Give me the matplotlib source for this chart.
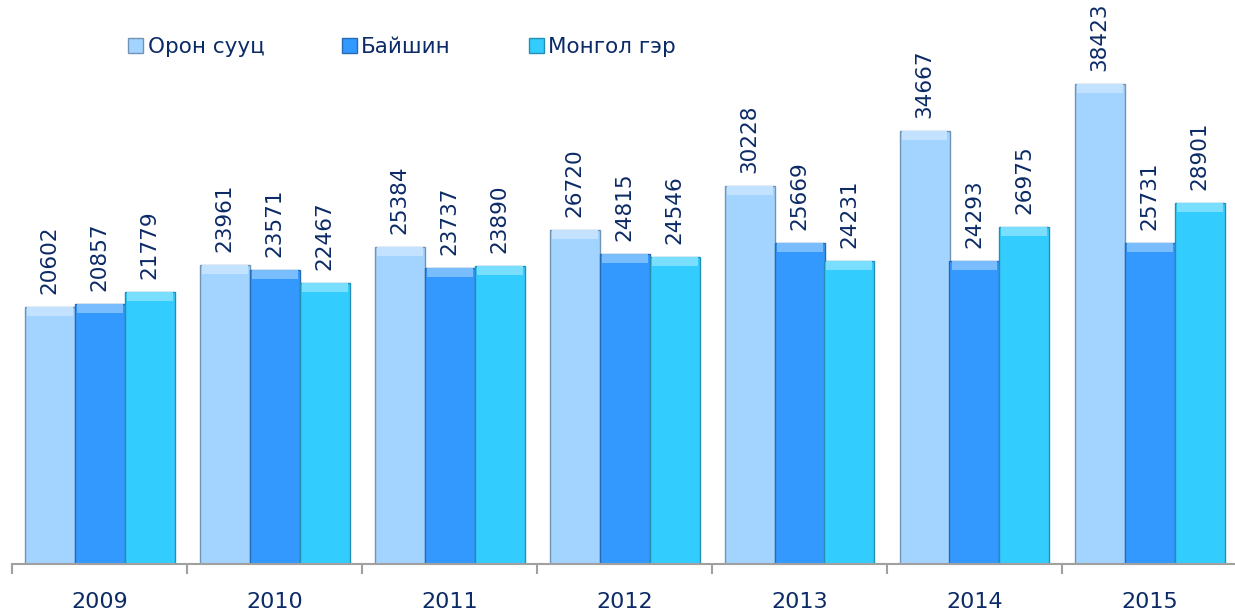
"""Housing types by year, grouped bars with rotated value labels."""

import numpy as np
import matplotlib.pyplot as plt
from matplotlib.colors import to_rgb

years = ["2009", "2010", "2011", "2012", "2013", "2014", "2015"]
series_names = ["Орон сууц", "Байшин", "Монгол гэр"]
apartment = [20602, 23961, 25384, 26720, 30228, 34667, 38423]
house = [20857, 23571, 23737, 24815, 25669, 24293, 25731]
ger = [21779, 22467, 23890, 24546, 24231, 26975, 28901]

colors = ["#A3D3FF", "#3399FF", "#33CCFF"]
TEXT = "#0B2A66"


def shade(c, f):
    r, g, b = to_rgb(c)
    if f > 1:
        return tuple(v + (1 - v) * (f - 1) for v in (r, g, b))
    return tuple(v * f for v in (r, g, b))


W, H, DPI = 1235, 612, 100
fig = plt.figure(figsize=(W / DPI, H / DPI), dpi=DPI)
ax = fig.add_axes([12 / W, 48 / H, 1225 / W, 562 / H])

x = np.arange(len(years))
bw = 50 / 175
ymax = 45000
bevel = 9 * ymax / 562  # top highlight band, ~9 px

for i, (vals, col) in enumerate(zip([apartment, house, ger], colors)):
    pos = x + (i - 1) * bw
    ax.bar(pos, vals, width=bw, color=col, edgecolor=shade(col, 0.7),
           linewidth=1.0, label=series_names[i], zorder=2)
    ax.bar(pos, [bevel] * len(vals), bottom=np.array(vals) - bevel,
           width=bw * 0.92, color=shade(col, 1.35), linewidth=0, zorder=3)
    for p, v in zip(pos, vals):
        ax.annotate(str(v), (p, v), xytext=(0, 13), textcoords="offset pixels",
                    rotation=90, ha="center", va="bottom", fontsize=15.5,
                    color=TEXT)

ax.set_xlim(-0.5, len(years) - 0.5)
ax.set_ylim(0, ymax)
ax.set_yticks([])
for s in ["top", "right", "left"]:
    ax.spines[s].set_visible(False)
ax.spines["bottom"].set_color("#A0A0A0")
ax.spines["bottom"].set_linewidth(1.5)

ax.set_xticks(x)
ax.set_xticklabels(years, fontsize=16, color=TEXT)
ax.tick_params(axis="x", which="major", length=0, pad=20)
ax.set_xticks(np.arange(len(years) + 1) - 0.5, minor=True)
ax.tick_params(axis="x", which="minor", length=7, width=1.5, color="#A0A0A0")

leg = ax.legend(loc="center", bbox_to_anchor=(402 / W, 1 - 47 / H),
                bbox_transform=fig.transFigure, ncol=3, frameon=False,
                fontsize=15.5, handlelength=0.7, handleheight=0.7,
                handletextpad=0.2, columnspacing=3.6)
for t in leg.get_texts():
    t.set_color(TEXT)

fig.savefig("out.png", dpi=DPI)
